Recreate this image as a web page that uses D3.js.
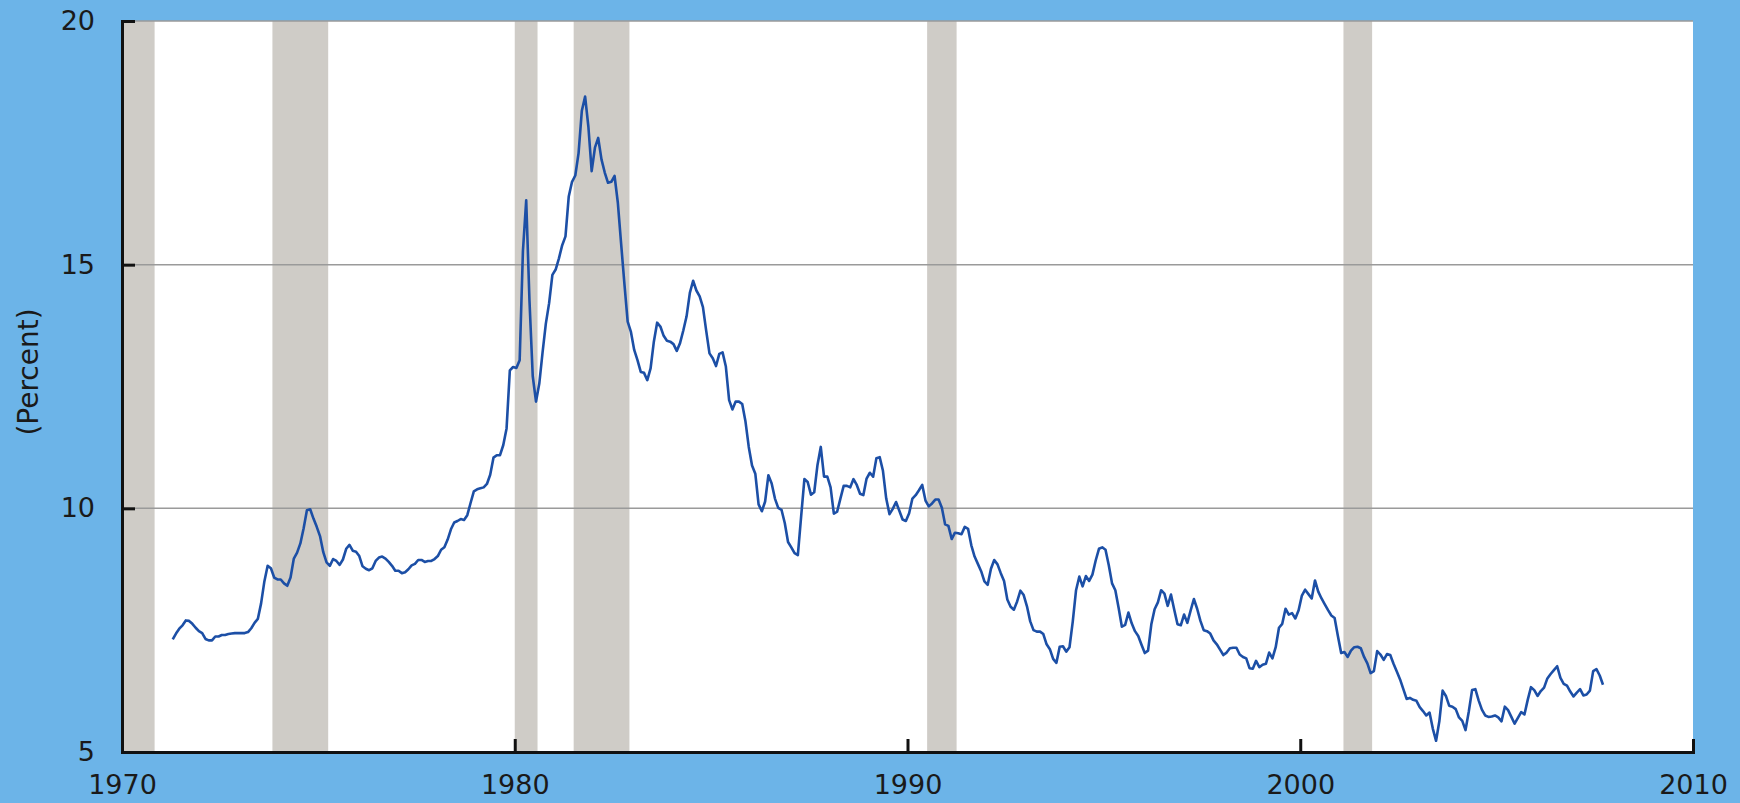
<!DOCTYPE html>
<html>
<head>
<meta charset="utf-8">
<script src="https://cdn.jsdelivr.net/npm/d3@7"></script>
<style>
  html, body { margin: 0; padding: 0; background: #6cb4e8; }
  svg { display: block; }
  .tick text { font-family: "DejaVu Sans", Verdana, sans-serif; font-size: 27px; fill: #1a1a1a; }
</style>
</head>
<body>
<div id="chart"></div>
<script>
// monthly 30-year mortgage rate, first value is April 1971
const firstYear = 1971;
const firstMonth = 4;

const rates1970s = [
  7.31, 7.43, 7.53, 7.60, 7.70, 7.69, 7.63, 7.55, 7.48,
  7.44, 7.32, 7.29, 7.29, 7.37, 7.37, 7.40, 7.40, 7.42, 7.43, 7.44, 7.44,
  7.44, 7.44, 7.46, 7.54, 7.65, 7.73, 8.05, 8.50, 8.82, 8.77, 8.58, 8.54,
  8.54, 8.46, 8.41, 8.58, 8.97, 9.09, 9.28, 9.59, 9.96, 9.98, 9.79, 9.62,
  9.43, 9.10, 8.89, 8.82, 8.96, 8.92, 8.84, 8.95, 9.17, 9.25, 9.13, 9.11,
  9.02, 8.81, 8.76, 8.73, 8.77, 8.92, 8.99, 9.01, 8.97, 8.90, 8.82, 8.72,
  8.72, 8.67, 8.69, 8.75, 8.83, 8.86, 8.94, 8.94, 8.90, 8.92, 8.92, 8.96,
  9.02, 9.15, 9.20, 9.36, 9.57, 9.71, 9.74, 9.78, 9.76, 9.86, 10.11, 10.35,
  10.39, 10.41, 10.43, 10.50, 10.69, 11.04, 11.09, 11.09, 11.30, 11.64, 12.83, 12.90
];
const rates1980s = [
  12.88, 13.04, 15.28, 16.32, 14.26, 12.71, 12.19, 12.56, 13.20, 13.79, 14.21, 14.79,
  14.90, 15.13, 15.40, 15.58, 16.40, 16.70, 16.83, 17.29, 18.16, 18.45, 17.83, 16.92,
  17.40, 17.60, 17.16, 16.89, 16.68, 16.70, 16.82, 16.27, 15.43, 14.61, 13.83, 13.62,
  13.25, 13.04, 12.80, 12.78, 12.63, 12.87, 13.42, 13.81, 13.73, 13.54, 13.44, 13.42,
  13.37, 13.23, 13.39, 13.65, 13.94, 14.42, 14.67, 14.47, 14.35, 14.13, 13.64, 13.18,
  13.08, 12.92, 13.17, 13.20, 12.91, 12.22, 12.03, 12.19, 12.19, 12.14, 11.78, 11.26,
  10.88, 10.71, 10.08, 9.94, 10.14, 10.68, 10.51, 10.20, 10.01, 9.97, 9.70, 9.31,
  9.20, 9.08, 9.04, 9.83, 10.60, 10.54, 10.28, 10.33, 10.89, 11.26, 10.65, 10.65,
  10.43, 9.89, 9.93, 10.20, 10.46, 10.46, 10.43, 10.60, 10.48, 10.30, 10.27, 10.61,
  10.73, 10.65, 11.03, 11.05, 10.77, 10.20, 9.88, 9.99, 10.13, 9.95, 9.77, 9.74
];
const rates1990s = [
  9.90, 10.20, 10.27, 10.37, 10.48, 10.16, 10.04, 10.10, 10.18, 10.18, 10.01, 9.67,
  9.64, 9.37, 9.50, 9.49, 9.47, 9.62, 9.58, 9.24, 9.01, 8.86, 8.71, 8.50,
  8.43, 8.76, 8.94, 8.85, 8.67, 8.51, 8.13, 7.98, 7.92, 8.09, 8.31, 8.22,
  7.99, 7.68, 7.50, 7.47, 7.47, 7.42, 7.21, 7.11, 6.91, 6.83, 7.16, 7.17,
  7.06, 7.15, 7.68, 8.32, 8.60, 8.40, 8.61, 8.51, 8.64, 8.93, 9.17, 9.20,
  9.15, 8.83, 8.46, 8.32, 7.96, 7.57, 7.61, 7.86, 7.64, 7.48, 7.38, 7.20,
  7.03, 7.08, 7.62, 7.93, 8.07, 8.32, 8.25, 8.00, 8.23, 7.92, 7.62, 7.60,
  7.82, 7.65, 7.90, 8.14, 7.94, 7.69, 7.50, 7.48, 7.43, 7.29, 7.21, 7.10,
  6.99, 7.04, 7.13, 7.14, 7.14, 7.00, 6.95, 6.92, 6.72, 6.71, 6.87, 6.74,
  6.79, 6.81, 7.04, 6.92, 7.15, 7.55, 7.63, 7.94, 7.82, 7.85, 7.74, 7.91
];
const rates2000s = [
  8.21, 8.33, 8.24, 8.15, 8.52, 8.29, 8.15, 8.03, 7.91, 7.80, 7.75, 7.38,
  7.03, 7.05, 6.95, 7.08, 7.15, 7.16, 7.13, 6.95, 6.82, 6.62, 6.66, 7.07,
  7.00, 6.89, 7.01, 6.99, 6.81, 6.65, 6.49, 6.29, 6.09, 6.11, 6.07, 6.05,
  5.92, 5.84, 5.75, 5.81, 5.48, 5.23, 5.63, 6.26, 6.15, 5.95, 5.93, 5.88,
  5.71, 5.64, 5.45, 5.83, 6.27, 6.29, 6.06, 5.87, 5.75, 5.72, 5.73, 5.75,
  5.71, 5.63, 5.93, 5.86, 5.72, 5.58, 5.70, 5.82, 5.77, 6.07, 6.33, 6.27,
  6.15, 6.25, 6.32, 6.51, 6.60, 6.68, 6.76, 6.52, 6.40, 6.36, 6.24, 6.14,
  6.22, 6.29, 6.16, 6.18, 6.26, 6.66, 6.70, 6.57, 6.38
];

// recession periods (decimal years)
const recessionStart = [1969.92, 1973.83, 1980.0, 1981.5, 1990.5, 2001.1];
const recessionEnd   = [1970.83, 1975.25, 1980.58, 1982.92, 1991.25, 2001.83];

const yearTicks = [1970, 1980, 1990, 2000, 2010];
const percentTicks = [5, 10, 15, 20];

const W = 1740, H = 803;
const plotLeft = 122, plotRight = 1693, plotTop = 21, plotBottom = 752;

const rates = rates1970s.concat(rates1980s, rates1990s, rates2000s);
const series = rates.map((v, i) => {
  const m = firstMonth - 1 + i;
  return { t: firstYear + Math.floor(m / 12) + ((m % 12) + 0.5) / 12, v: v };
});
const recessions = recessionStart.map((s, i) => ({ start: s, end: recessionEnd[i] }));

const svg = d3.select("#chart").append("svg")
  .attr("width", W)
  .attr("height", H);

svg.append("rect")
  .attr("width", W).attr("height", H)
  .attr("fill", "#6cb4e8");

const x = d3.scaleLinear().domain([1970, 2010]).range([plotLeft, plotRight]);
const y = d3.scaleLinear().domain([5, 20]).range([plotBottom, plotTop]);

// plot background
svg.append("rect")
  .attr("x", plotLeft).attr("y", plotTop)
  .attr("width", plotRight - plotLeft).attr("height", plotBottom - plotTop)
  .attr("fill", "#ffffff");

// recession shading
svg.append("g").selectAll("rect")
  .data(recessions)
  .join("rect")
  .attr("x", d => x(Math.max(d.start, 1970)))
  .attr("y", plotTop)
  .attr("width", d => x(d.end) - x(Math.max(d.start, 1970)))
  .attr("height", plotBottom - plotTop)
  .attr("fill", "#cfccc7");

// horizontal grid lines
svg.append("g").selectAll("line")
  .data(percentTicks.filter(d => d > 5))
  .join("line")
  .attr("x1", plotLeft).attr("x2", plotRight)
  .attr("y1", d => y(d)).attr("y2", d => y(d))
  .attr("stroke", "#9a9a9a")
  .attr("stroke-width", 1.5);

// rate line
const line = d3.line()
  .x(d => x(d.t))
  .y(d => y(d.v));

svg.append("path")
  .datum(series)
  .attr("d", line)
  .attr("fill", "none")
  .attr("stroke", "#1c4fa6")
  .attr("stroke-width", 2.6)
  .attr("stroke-linejoin", "round");

// axes
const yAxis = d3.axisLeft(y)
  .tickValues(percentTicks)
  .tickFormat(d3.format("d"))
  .tickSize(-13)
  .tickPadding(27);

const xAxis = d3.axisBottom(x)
  .tickValues(yearTicks)
  .tickFormat(d3.format("d"))
  .tickSize(-13)
  .tickPadding(23);

const gy = svg.append("g")
  .attr("transform", `translate(${plotLeft},0)`)
  .call(yAxis);

const gx = svg.append("g")
  .attr("transform", `translate(0,${plotBottom})`)
  .call(xAxis);

[gy, gx].forEach(g => {
  g.select(".domain").attr("stroke", "#111").attr("stroke-width", 3);
  g.selectAll(".tick line").attr("stroke", "#111").attr("stroke-width", 3);
});

svg.append("text")
  .attr("transform", `translate(28,372) rotate(-90)`)
  .attr("text-anchor", "middle")
  .attr("dy", "0.35em")
  .attr("font-family", "DejaVu Sans, Verdana, sans-serif")
  .attr("font-size", 28)
  .attr("fill", "#1a1a1a")
  .text("(Percent)");
</script>
</body>
</html>
